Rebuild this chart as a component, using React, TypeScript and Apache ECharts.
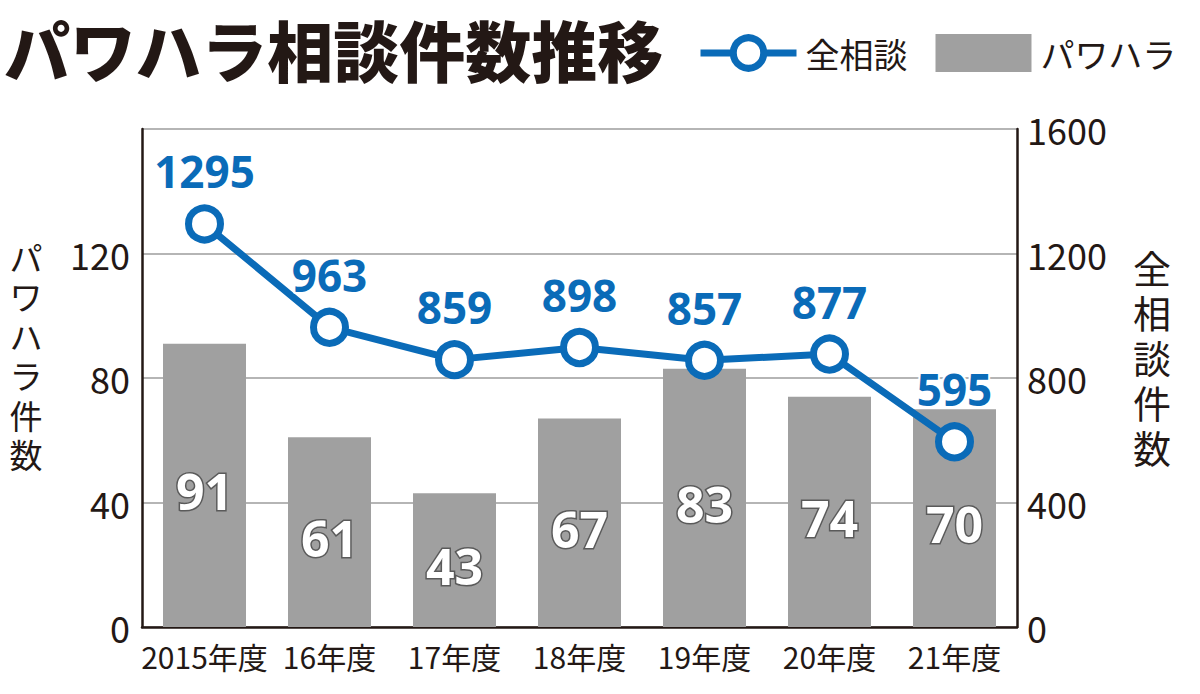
import React, { useEffect, useRef } from "react";
import * as echarts from "echarts";

const categories = ["2015年度", "16年度", "17年度", "18年度", "19年度", "20年度", "21年度"];
const powerHaraCounts = [91, 61, 43, 67, 83, 74, 70];
const allConsultCounts = [1295, 963, 859, 898, 857, 877, 595];
const leftTicks = [0, 40, 80, 120];
const leftAxisTitle = "パワハラ件数";
const rightAxisTitle = "全相談件数";

const BLUE = "#0a6bb8";
const INK = "#231815";
const GRAY = "#a0a0a0";
const FONT = "'Noto Sans CJK JP', 'Noto Sans', sans-serif";

function verticalText(
  text: string,
  cx: number,
  top: number,
  step: number,
  size: number,
  lineHeight?: number
) {
  return text.split("").map((ch, i) => ({
    type: "text",
    x: cx,
    y: top + i * step,
    style: {
      text: ch,
      fontSize: size,
      ...(lineHeight ? { lineHeight } : {}),
      fill: INK,
      fontFamily: FONT,
      align: "center",
      verticalAlign: "top",
    },
  }));
}

export default function App() {
  const ref = useRef<HTMLDivElement>(null);
  useEffect(() => {
    document.body.style.margin = "0";
    const chart = echarts.init(ref.current!, null, { renderer: "svg" });
    chart.setOption({
      animation: false,
      backgroundColor: "#ffffff",
      textStyle: { fontFamily: FONT },
      title: {
        text: "パワハラ相談件数推移",
        left: 4,
        top: 14,
        padding: 0,
        textStyle: { fontSize: 66, lineHeight: 68, fontWeight: 900, color: INK, fontFamily: FONT },
      },
      legend: {
        left: 692,
        top: 29,
        itemWidth: 96,
        itemHeight: 38,
        itemGap: 28,
        textStyle: { fontSize: 34, color: INK, fontFamily: FONT, padding: [0, 0, 0, 4] },
        data: [
          {
            name: "全相談",
            lineStyle: { color: BLUE, width: 7 },
            itemStyle: { color: "#ffffff", borderColor: BLUE, borderWidth: 7 },
          },
          { name: "パワハラ", icon: "rect", itemStyle: { color: GRAY } },
        ],
      },
      graphic: [
        ...verticalText(leftAxisTitle, 26, 240, 39.5, 33),
        ...verticalText(rightAxisTitle, 1152, 247, 45, 38, 38),
      ],
      grid: { left: 142, right: 183, top: 129, bottom: 67 },
      xAxis: {
        type: "category",
        data: categories,
        axisLine: { lineStyle: { color: INK, width: 2.5 } },
        axisTick: { show: false },
        axisLabel: {
          fontSize: 30,
          color: INK,
          margin: 14,
          fontFamily: FONT,
          interval: 0,
          hideOverlap: false,
        },
      },
      yAxis: [
        {
          type: "value",
          min: 0,
          max: 160,
          interval: 40,
          axisLine: { show: true, lineStyle: { color: INK, width: 2.5 } },
          axisTick: { show: false },
          axisLabel: {
            fontSize: 36,
            color: INK,
            margin: 12,
            fontFamily: FONT,
            formatter: (v: number) => (leftTicks.includes(v) ? String(v) : ""),
          },
          splitLine: { show: true, lineStyle: { color: "#b5b5b5", width: 2 } },
        },
        {
          type: "value",
          min: 0,
          max: 1600,
          interval: 400,
          axisLine: { show: true, lineStyle: { color: INK, width: 2.5 } },
          axisTick: { show: false },
          axisLabel: {
            fontSize: 36,
            color: INK,
            margin: 10,
            fontFamily: FONT,
            formatter: (v: number) => String(v),
          },
          splitLine: { show: false },
        },
      ],
      series: [
        {
          name: "パワハラ",
          type: "bar",
          yAxisIndex: 0,
          data: powerHaraCounts,
          barWidth: 83,
          itemStyle: { color: GRAY },
          label: {
            show: true,
            position: "inside",
            fontSize: 50,
            fontWeight: "bold",
            color: "#ffffff",
            textBorderColor: "#5a5a5a",
            textBorderWidth: 3,
            fontFamily: "'Open Sans', 'Noto Sans', sans-serif",
            offset: [0, 6],
          },
          z: 1,
        },
        {
          name: "全相談",
          type: "line",
          yAxisIndex: 1,
          data: allConsultCounts,
          symbol: "circle",
          symbolSize: 32,
          lineStyle: { color: BLUE, width: 7 },
          itemStyle: { color: "#ffffff", borderColor: BLUE, borderWidth: 7 },
          label: {
            show: true,
            position: "top",
            distance: 11,
            fontSize: 44,
            fontWeight: "bold",
            color: BLUE,
            textBorderColor: "#ffffff",
            textBorderWidth: 4,
            fontFamily: "'Open Sans', 'Noto Sans', sans-serif",
          },
          z: 3,
        },
      ],
    });
    return () => chart.dispose();
  }, []);
  return <div ref={ref} style={{ width: 1200, height: 694 }} />;
}
